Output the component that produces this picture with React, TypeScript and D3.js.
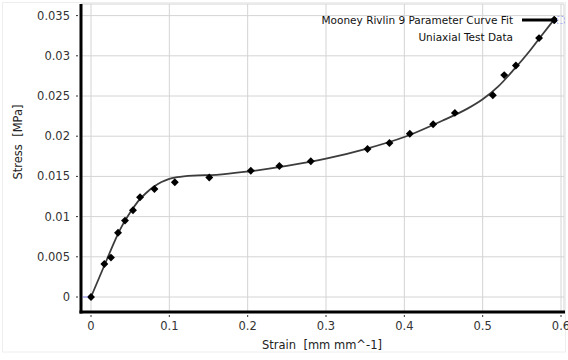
import React from "react";
import * as d3 from "d3";

// Measured uniaxial test points
const testStrain = [0, 0.017, 0.0255, 0.0345, 0.0434, 0.0536, 0.0626, 0.081, 0.107, 0.151, 0.204, 0.2405, 0.2806, 0.353, 0.381, 0.407, 0.4368, 0.4645, 0.513, 0.5275, 0.5424, 0.572, 0.5917];
const testStress = [0, 0.0041, 0.0049, 0.008, 0.0095, 0.0108, 0.0124, 0.01343, 0.01427, 0.01486, 0.0157, 0.0163, 0.01688, 0.0184, 0.01915, 0.0203, 0.02148, 0.0229, 0.0251, 0.0276, 0.0288, 0.0322, 0.03445];

// Mooney Rivlin 9 parameter fit curve
const fitStrain = [0, 0.01, 0.02, 0.03, 0.04, 0.05, 0.06, 0.07, 0.08, 0.09, 0.1, 0.11, 0.13, 0.16, 0.2, 0.25, 0.3, 0.35, 0.4, 0.45, 0.48, 0.5, 0.52, 0.54, 0.56, 0.575, 0.592];
const fitStress = [0, 0.0023, 0.0046, 0.0069, 0.0089, 0.0105, 0.0119, 0.0129, 0.0137, 0.0143, 0.0147, 0.0149, 0.0151, 0.0152, 0.0156, 0.0163, 0.0172, 0.0184, 0.0199, 0.022, 0.0234, 0.0246, 0.0262, 0.0283, 0.0306, 0.0325, 0.0346];

const xTicks = [0, 0.1, 0.2, 0.3, 0.4, 0.5, 0.6];
const yTicks = [0, 0.005, 0.01, 0.015, 0.02, 0.025, 0.03, 0.035];

const legendLabels = ["Mooney Rivlin 9 Parameter Curve Fit", "Uniaxial Test Data"];

const FONT = "DejaVu Sans, sans-serif";

export default function App() {
  const left = 81;
  const right = 564;
  const top = 4;
  const bottom = 312;

  const x = d3.scaleLinear().domain([0, 0.6]).range([91, 561]);
  const y = d3.scaleLinear().domain([0, 0.035]).range([297, 15.6]);

  const line = d3
    .line<number>()
    .x((_, i) => x(fitStrain[i]))
    .y((d) => y(d))
    .curve(d3.curveMonotoneX);

  const diamond = d3.symbol().type(d3.symbolDiamond2).size(40)();

  const fmt = (v: number) => (v === 0 ? "0" : String(+v.toFixed(3)));

  return (
    <svg
      width={568}
      height={360}
      style={{ position: "absolute", left: 0, top: 0, background: "#fff" }}
      fontFamily={FONT}
    >
      <rect x={2.5} y={2.5} width={563} height={349.5} fill="none" stroke="#eeeeee" />

      {/* grid */}
      {xTicks.map((t) => (
        <line key={"gx" + t} x1={x(t)} x2={x(t)} y1={top} y2={bottom} stroke="#d4d4d4" strokeWidth={1} />
      ))}
      {yTicks.map((t) => (
        <line key={"gy" + t} x1={left} x2={right} y1={y(t)} y2={y(t)} stroke="#d4d4d4" strokeWidth={1} />
      ))}
      <line x1={left} x2={right} y1={top} y2={top} stroke="#d4d4d4" />
      <line x1={right} x2={right} y1={top} y2={bottom} stroke="#d4d4d4" />

      {/* ticks and labels */}
      {yTicks.map((t) => (
        <g key={"ty" + t}>
          <line x1={76} x2={78} y1={y(t)} y2={y(t)} stroke="#333" />
          <text x={70} y={y(t) + 4} textAnchor="end" fontSize={11.5} fill="#333">
            {fmt(t)}
          </text>
        </g>
      ))}
      {xTicks.map((t) => (
        <g key={"tx" + t}>
          <line x1={x(t)} x2={x(t)} y1={315} y2={317} stroke="#333" />
          <text x={x(t)} y={330} textAnchor="middle" fontSize={11.5} fill="#333">
            {fmt(t)}
          </text>
        </g>
      ))}

      {/* axes */}
      <line x1={left} x2={left} y1={top} y2={bottom + 1.5} stroke="#000" strokeWidth={3} />
      <line x1={left - 1.5} x2={right + 1} y1={bottom} y2={bottom} stroke="#000" strokeWidth={3} />

      {/* axis titles */}
      <text x={322} y={349} textAnchor="middle" fontSize={11.5} fill="#222" style={{ whiteSpace: "pre" }}>
        {"Strain  [mm mm^-1]"}
      </text>
      <text
        transform="translate(22,142) rotate(-90)"
        textAnchor="middle"
        fontSize={11.5}
        fill="#222"
        style={{ whiteSpace: "pre" }}
      >
        {"Stress  [MPa]"}
      </text>

      {/* fit curve */}
      <path d={line(fitStress) || ""} fill="none" stroke="#3c3c3c" strokeWidth={1.8} />

      {/* test data */}
      {testStrain.map((s, i) => (
        <path key={"p" + i} d={diamond || ""} transform={`translate(${x(s)},${y(testStress[i])})`} fill="#000" />
      ))}

      <line x1={83} x2={88} y1={y(0)} y2={y(0)} stroke="#8888ee" strokeWidth={1} />

      {/* legend */}
      <text x={513} y={23.5} textAnchor="end" fontSize={10.5} fill="#111">
        {legendLabels[0]}
      </text>
      <line x1={522} x2={554} y1={20} y2={20} stroke="#000" strokeWidth={3} />
      <path d={diamond || ""} transform="translate(554,20)" fill="#000" />
      <rect x={557.5} y={16.5} width={7} height={7} fill="none" stroke="#aab0ee" strokeDasharray="2,2" />
      <text x={513} y={40.5} textAnchor="end" fontSize={10.5} fill="#111">
        {legendLabels[1]}
      </text>
    </svg>
  );
}
